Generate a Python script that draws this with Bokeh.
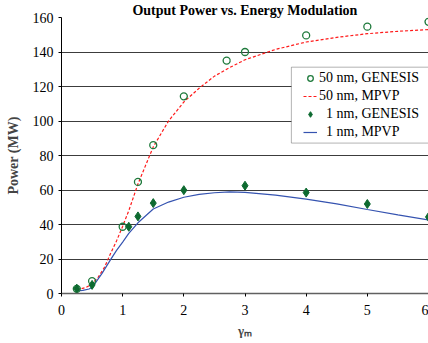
from bokeh.plotting import figure
from bokeh.models import Range1d, Legend, LegendItem, BoxAnnotation, FixedTicker
from bokeh.embed import file_html
from bokeh.resources import INLINE

# GENESIS simulation points
gen50_x = [0.25, 0.5, 1.0, 1.25, 1.5, 2.0, 2.7, 3.0, 4.0, 5.0, 6.0]
gen50_y = [2.7, 7.2, 38.7, 64.7, 86.0, 114.3, 135.0, 140.0, 149.6, 154.7, 157.5]
gen1_x = [0.25, 0.5, 1.1, 1.25, 1.5, 2.0, 3.0, 4.0, 5.0, 6.0]
gen1_y = [2.8, 5.0, 38.7, 44.7, 52.4, 59.9, 62.5, 58.5, 51.9, 44.4]

# MPVP model curves
mpvp50_x = [0.25, 0.4, 0.5, 0.6, 0.7, 0.75, 0.8, 0.9, 1.0, 1.1, 1.25, 1.5, 1.75,
            2.0, 2.25, 2.5, 2.75, 3.0, 3.5, 4.0, 4.5, 5.0, 5.5, 6.0]
mpvp50_y = [2.0, 3.5, 5.5, 9.5, 15.0, 19.0, 23.0, 30.5, 39.0, 48.0, 63.5, 85.0, 100.0,
            111.0, 119.0, 126.0, 131.0, 135.5, 141.5, 145.8, 148.5, 150.6, 152.0, 153.0]
mpvp1_x = [0.25, 0.35, 0.45, 0.5, 0.56, 0.66, 0.8, 0.9, 1.0, 1.1, 1.25, 1.5, 1.75,
           2.0, 2.25, 2.5, 2.75, 3.0, 3.5, 4.0, 4.5, 5.0, 5.5, 6.0]
mpvp1_y = [1.5, 1.8, 2.6, 3.5, 6.5, 11.5, 19.5, 25.0, 29.8, 34.8, 41.0, 49.0, 53.0,
           55.8, 57.5, 58.4, 58.9, 58.6, 57.0, 54.7, 52.0, 48.7, 45.6, 42.6]

y_ticks = [0, 20, 40, 60, 80, 100, 120, 140, 160]
x_ticks = [0, 1, 2, 3, 4, 5, 6]

SERIF = "Liberation Serif"

p = figure(width=428, height=343, output_backend="svg", toolbar_location=None,
           x_range=Range1d(0, 6), y_range=Range1d(0, 160),
           title="Output Power vs. Energy Modulation",
           min_border_left=61, min_border_right=0, min_border_top=0, min_border_bottom=50)
p.outline_line_color = None
p.background_fill_color = "white"
p.border_fill_color = "white"

p.title.align = "center"
p.title.text_font = SERIF
p.title.text_font_style = "bold"
p.title.text_font_size = "14px"
p.title.text_color = "black"
p.title.text_line_height = 0.85
p.title.standoff = 0
p.title.offset = 0

p.xgrid.grid_line_color = None
p.ygrid.ticker = FixedTicker(ticks=y_ticks)
p.ygrid.grid_line_color = "#3c3c3c"
p.ygrid.grid_line_width = 1

p.yaxis.ticker = FixedTicker(ticks=y_ticks)
p.xaxis.ticker = FixedTicker(ticks=x_ticks)
for ax in (p.xaxis, p.yaxis):
    ax.major_label_text_font = SERIF
    ax.major_label_text_font_size = "14px"
    ax.major_label_text_color = "black"
    ax.major_tick_in = 0
    ax.major_tick_out = 3
    ax.minor_tick_line_color = None
    ax.major_tick_line_color = "black"
p.yaxis.axis_line_color = "black"
p.xaxis.axis_line_color = "#606060"
p.xaxis.axis_line_width = 1.5
p.yaxis.major_label_standoff = 5
p.xaxis.major_label_standoff = 8

p.yaxis.axis_label = "Power (MW)"
p.yaxis.axis_label_text_font = SERIF
p.yaxis.axis_label_text_font_style = "bold"
p.yaxis.axis_label_text_font_size = "14px"
p.yaxis.axis_label_standoff = 9

# x symbol: gamma with subscript M
p.xaxis.axis_label = "\u03b3\u2098"
p.xaxis.axis_label_text_font = SERIF
p.xaxis.axis_label_text_font_style = "bold"
p.xaxis.axis_label_text_font_size = "13px"
p.xaxis.axis_label_standoff = 5

r_mpvp50 = p.line(mpvp50_x, mpvp50_y, line_color="#ff1a1a", line_width=1.2, line_dash="3 2")
r_mpvp1 = p.line(mpvp1_x, mpvp1_y, line_color="#3553b0", line_width=1.2)
r_gen50 = p.scatter(gen50_x, gen50_y, marker="circle", size=7, fill_color=None,
                    line_color="#1f7a3c", line_width=1.3)
r_gen1 = p.scatter(gen1_x, gen1_y, marker="diamond", size=9, fill_color="#0d6a30",
                   line_color="#0d6a30", line_width=1)

# legend frame
p.add_layout(BoxAnnotation(left=3.758, right=6.3, bottom=87.2, top=131.2,
                           fill_color="white", fill_alpha=1.0,
                           line_color="black", line_width=1, level="annotation"))

legend = Legend(items=[
    LegendItem(label="50 nm, GENESIS", renderers=[r_gen50]),
    LegendItem(label="50 nm, MPVP", renderers=[r_mpvp50]),
    LegendItem(label="\u20071 nm, GENESIS", renderers=[r_gen1]),
    LegendItem(label="\u20071 nm, MPVP", renderers=[r_mpvp1]),
], location=(242, 152))
legend.border_line_color = None
legend.background_fill_alpha = 0
legend.padding = 2
legend.spacing = 0
legend.margin = 0
legend.glyph_width = 14
legend.glyph_height = 18
legend.label_height = 18
legend.label_standoff = 2
legend.label_text_font = SERIF
legend.label_text_font_size = "14px"
legend.label_text_color = "black"
p.add_layout(legend, "center")

open("out.html", "w").write(file_html(p, INLINE))
